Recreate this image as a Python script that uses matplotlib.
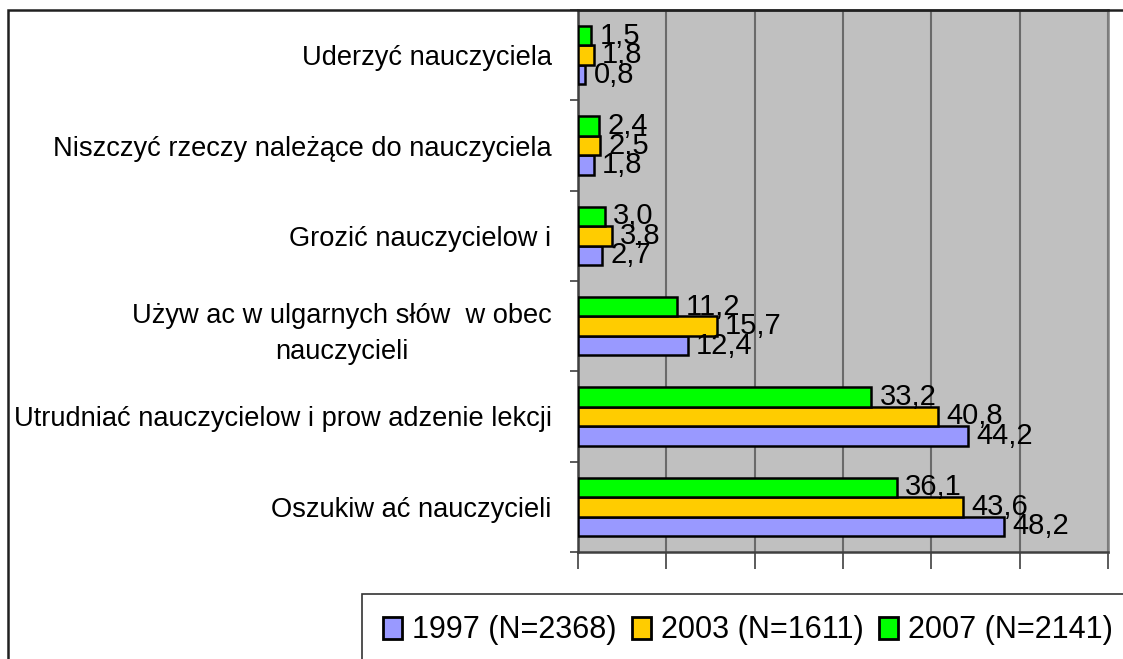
import matplotlib
matplotlib.use('Agg')
import matplotlib.pyplot as plt
import numpy as np
from matplotlib.patches import Rectangle

plt.rcParams['font.family'] = ['Liberation Sans', 'DejaVu Sans']

categories = ['Uderzyć nauczyciela',
              'Niszczyć rzeczy należące do nauczyciela',
              'Grozić nauczycielow i',
              'Używ ac w ulgarnych słów  w obec\nnauczycieli',
              'Utrudniać nauczycielow i prow adzenie lekcji',
              'Oszukiw ać nauczycieli']
series = ['1997 (N=2368)', '2003 (N=1611)', '2007 (N=2141)']
v1997 = [0.8, 1.8, 2.7, 12.4, 44.2, 48.2]
v2003 = [1.8, 2.5, 3.8, 15.7, 40.8, 43.6]
v2007 = [1.5, 2.4, 3.0, 11.2, 33.2, 36.1]
colors = ['#9999FF', '#FFCC00', '#00FF00']

fig = plt.figure(figsize=(11.23, 6.59), dpi=100)
ax = fig.add_axes([578/1123, 1-552/659, 530/1123, 542/659])
ax.set_facecolor('#C0C0C0')

y = np.arange(len(categories))
h = 0.215
offsets = [h, 0, -h]
for vals, col, off, name in zip([v1997, v2003, v2007], colors, offsets, series):
    ax.barh(y + off, vals, height=h, color=col, edgecolor='black', linewidth=1.8, label=name, zorder=3)
    for yy, v in zip(y + off, vals):
        ax.annotate(f'{v:.1f}'.replace('.', ','), (v, yy), xytext=(6, 0),
                    textcoords='offset points', ha='left', va='center',
                    fontsize=21, zorder=4)

ax.set_xlim(0, 60)
ax.set_ylim(5.5, -0.5)
ax.set_xticks(np.arange(0, 61, 10))
ax.set_xticklabels([])
ax.grid(axis='x', color='#6a6a6a', linewidth=1.5, zorder=1)
ax.tick_params(axis='x', length=12, width=1.2, color='#404040', direction='out')

ax.set_yticks(y)
ax.set_yticklabels(categories, fontsize=19.6, linespacing=1.5)
ax.tick_params(axis='y', which='major', length=0, pad=19)
ax.set_yticks(np.arange(-0.5, 6, 1), minor=True)
ax.tick_params(axis='y', which='minor', length=6, width=1.2, color='#404040')
for lab in ax.get_yticklabels():
    lab.set_horizontalalignment('right')
    lab.set_multialignment('center')

ax.spines['top'].set_color('#404040')
ax.spines['left'].set_color('#404040')
ax.spines['bottom'].set_color('#404040')
ax.spines['right'].set_color('#808080')
for s in ax.spines.values():
    s.set_linewidth(1.8)

# outer chart frame (cut by figure edge on right and bottom)
fig.patches.append(Rectangle((8/1123, -0.1), 1.2, 1.1 - 10/659, transform=fig.transFigure,
                             fill=False, edgecolor='#202020', linewidth=1.8))

leg = fig.legend(loc='upper left', bbox_to_anchor=(362/1123, 1-594/659), ncol=3,
                 fontsize=22, frameon=True, fancybox=False, edgecolor='black',
                 handlelength=0.6, handleheight=0.75, handletextpad=0.35,
                 columnspacing=0.5, borderpad=0.7, borderaxespad=0)
leg.get_frame().set_linewidth(1.2)
for p in leg.get_patches():
    p.set_linewidth(2)

fig.savefig('out.png', dpi=100)
